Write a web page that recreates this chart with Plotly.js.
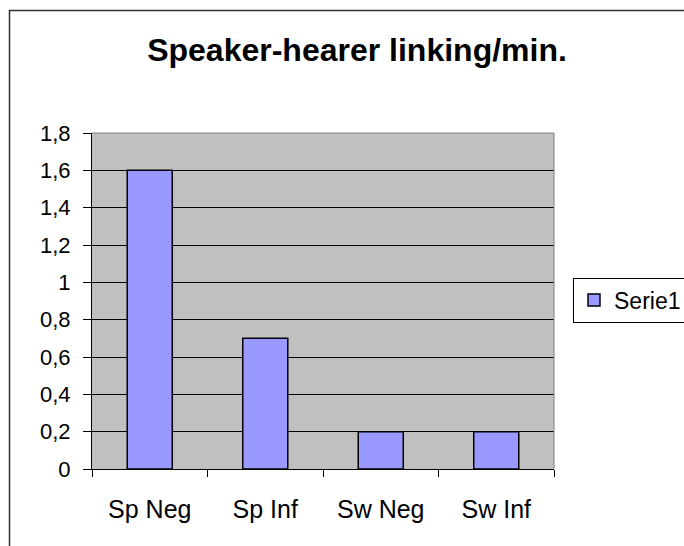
<!DOCTYPE html>
<html>
<head>
<meta charset="utf-8">
<script src="https://cdn.plot.ly/plotly-3.0.1.min.js"></script>
<style>
  html, body { margin: 0; padding: 0; background: #ffffff; }
  #chart { width: 684px; height: 546px; }
</style>
</head>
<body>
<div id="chart"></div>
<script>
const categories = ["Sp Neg", "Sp Inf", "Sw Neg", "Sw Inf"];
const serie1 = [1.6, 0.7, 0.2, 0.2];
const seriesName = "Serie1";
const yTickVals = [0, 0.2, 0.4, 0.6, 0.8, 1, 1.2, 1.4, 1.6, 1.8];
const yTickText = ["0", "0,2", "0,4", "0,6", "0,8", "1", "1,2", "1,4", "1,6", "1,8"];
const chartTitle = "Speaker-hearer linking/min.";

const font = "Arial, 'Liberation Sans', sans-serif";
const ml = 92, mr = 130, mt = 133, mb = 77;
const pw = 684 - ml - mr, ph = 546 - mt - mb;
const px = v => (v - ml) / pw;
const py = v => (546 - mb - v) / ph;

const trace = {
  type: "bar",
  x: categories,
  y: serie1,
  name: seriesName,
  marker: { color: "#9999FF", line: { color: "#000000", width: 1.5 } },
  showlegend: true
};

const layout = {
  width: 684,
  height: 546,
  margin: { l: ml, r: mr, t: mt, b: mb, pad: 0, autoexpand: false },
  paper_bgcolor: "#ffffff",
  plot_bgcolor: "#C0C0C0",
  separators: ", ",
  bargap: 0.61,
  font: { family: font, size: 22, color: "#000000" },
  title: {
    text: "<b>" + chartTitle + "</b>",
    font: { family: font, size: 32, color: "#000000" },
    x: 357 / 684, xanchor: "center", xref: "container",
    y: 1 - 50 / 546, yanchor: "middle", yref: "container",
    automargin: false
  },
  xaxis: {
    type: "category",
    range: [-0.5, 3.5],
    tickson: "boundaries",
    ticks: "outside",
    ticklen: 7,
    tickwidth: 1,
    tickcolor: "#000000",
    showgrid: false,
    showline: true,
    linecolor: "#000000",
    linewidth: 1,
    ticklabelstandoff: 18,
    tickfont: { family: font, size: 25, color: "#000000" },
    automargin: false,
    fixedrange: true
  },
  yaxis: {
    range: [0, 1.8],
    tickmode: "array",
    tickvals: yTickVals,
    ticktext: yTickText,
    ticks: "outside",
    ticklen: 8,
    tickwidth: 1,
    tickcolor: "#000000",
    showgrid: true,
    gridcolor: "#000000",
    gridwidth: 1,
    zeroline: false,
    showline: true,
    linecolor: "#000000",
    linewidth: 1,
    ticklabelstandoff: 8,
    tickfont: { family: font, size: 22, color: "#000000" },
    automargin: false,
    fixedrange: true
  },
  legend: {
    x: px(573), xanchor: "left",
    y: py(300), yanchor: "middle",
    bgcolor: "#ffffff",
    bordercolor: "#000000",
    borderwidth: 1,
    itemwidth: 30,
    font: { family: font, size: 23, color: "#000000" }
  },
  shapes: [
    {
      type: "line", xref: "paper", yref: "paper",
      x0: 0, x1: 1, y0: 1, y1: 1,
      line: { color: "#808080", width: 1 }, layer: "above"
    },
    {
      type: "line", xref: "paper", yref: "paper",
      x0: 1, x1: 1, y0: 0, y1: 1,
      line: { color: "#808080", width: 1 }, layer: "above"
    },
    {
      type: "rect", xref: "paper", yref: "paper",
      x0: px(9.5), x1: px(700), y0: py(560), y1: py(10.5),
      line: { color: "#333333", width: 1.5 }, fillcolor: "rgba(0,0,0,0)", layer: "above"
    }
  ]
};

Plotly.newPlot("chart", [trace], layout, { displayModeBar: false, staticPlot: true });
</script>
</body>
</html>
